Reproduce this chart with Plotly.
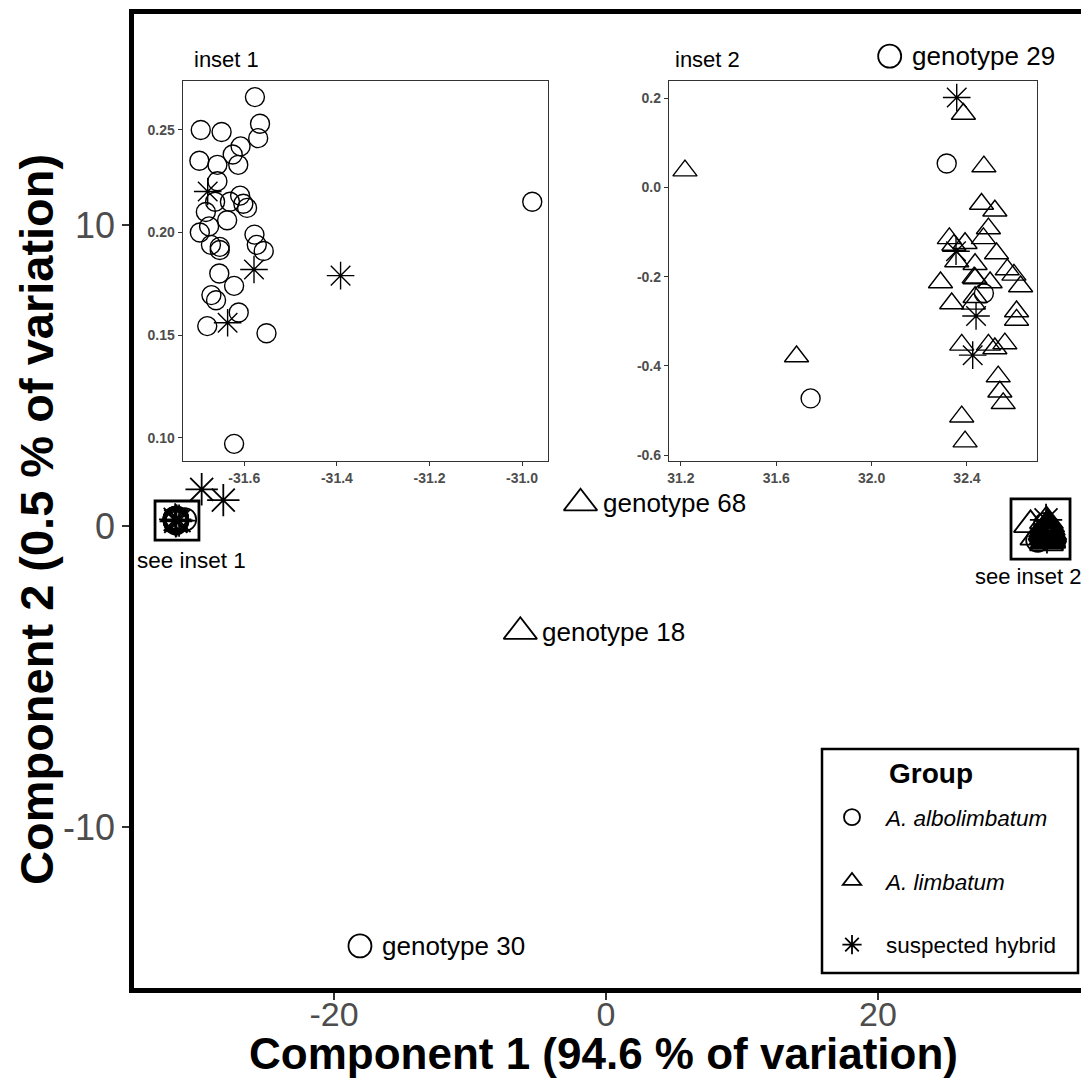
import plotly.graph_objects as go

# ---------------- data (PC1, PC2) ----------------
# A. albolimbatum - cluster near PC1 ~ -31.6 (inset 1)
alb1_x = [-31.577, -31.694, -31.649, -31.566, -31.570, -31.697, -31.625, -31.608, -31.658, -31.613,
          -31.658, -31.663, -31.631, -31.609, -31.602, -31.594, -31.683, -31.637, -31.676, -31.696,
          -31.578, -31.672, -31.653, -31.653, -31.573, -31.558, -31.654, -31.622, -31.671, -31.661,
          -31.612, -31.680, -31.552, -31.622, -30.978]
alb1_y = [0.266, 0.250, 0.249, 0.253, 0.246, 0.235, 0.238, 0.242, 0.233, 0.233,
          0.225, 0.215, 0.215, 0.218, 0.214, 0.212, 0.210, 0.206, 0.203, 0.200,
          0.199, 0.194, 0.193, 0.1915, 0.194, 0.191, 0.180, 0.174, 0.1695, 0.167,
          0.161, 0.1544, 0.1509, 0.097, 0.215]
# A. albolimbatum - inside cluster near PC1 ~ 32 (inset 2)
alb2_x = [32.315, 32.471, 31.744]
alb2_y = [0.054, -0.237, -0.473]

# A. limbatum - cluster near PC1 ~ 32.4 (inset 2)
lim2_x = [31.217, 31.685, 32.385, 32.471, 32.461, 32.517, 32.490, 32.469, 32.326, 32.345,
          32.392, 32.524, 32.357, 32.434, 32.430, 32.434, 32.497, 32.289, 32.569, 32.597,
          32.625, 32.336, 32.427, 32.608, 32.608, 32.378, 32.490, 32.517, 32.559, 32.531,
          32.538, 32.552, 32.378, 32.392, 32.434]
lim2_y = [0.038, -0.379, 0.165, 0.047, -0.037, -0.052, -0.092, -0.114, -0.114, -0.129,
          -0.125, -0.148, -0.166, -0.172, -0.202, -0.204, -0.213, -0.213, -0.184, -0.196,
          -0.222, -0.260, -0.261, -0.278, -0.297, -0.353, -0.353, -0.361, -0.350, -0.424,
          -0.458, -0.484, -0.514, -0.570, -0.246]

# suspected hybrids
hyb1_x = [-31.679, -31.579, -31.636, -31.392, -29.73, -28.14]
hyb1_y = [0.220, 0.182, 0.156, 0.179, 1.22, 0.86]
hyb2_x = [32.357, 32.354, 32.438, 32.424]
hyb2_y = [0.202, -0.143, -0.288, -0.376]

# labelled outlier genotypes
out_labels = ["genotype 29", "genotype 30", "genotype 68", "genotype 18"]
out_group = ["alb", "alb", "lim", "lim"]
out_x = [20.86, -18.09, -1.875, -6.30]
out_y = [15.61, -13.95, 0.76, -3.51]

group_names = ["A. albolimbatum", "A. limbatum", "suspected hybrid"]

main_xticks = [-20, 0, 20]
main_yticks = [-10, 0, 10]
in1_xticks = [-31.6, -31.4, -31.2, -31.0]
in1_yticks = [0.10, 0.15, 0.20, 0.25]
in2_xticks = [31.2, 31.6, 32.0, 32.4]
in2_yticks = [-0.6, -0.4, -0.2, 0.0, 0.2]

# ---------------- assemble groups ----------------
alb_x = alb1_x + alb2_x + [x for x, g in zip(out_x, out_group) if g == "alb"]
alb_y = alb1_y + alb2_y + [y for y, g in zip(out_y, out_group) if g == "alb"]
lim_x = lim2_x + [x for x, g in zip(out_x, out_group) if g == "lim"]
lim_y = lim2_y + [y for y, g in zip(out_y, out_group) if g == "lim"]
hyb_x = hyb1_x + hyb2_x
hyb_y = hyb1_y + hyb2_y

FONT = "Liberation Sans, Arial, Helvetica, sans-serif"
GREY = "#4D4D4D"

fig = go.Figure()

# main panel traces
fig.add_trace(go.Scatter(x=alb_x, y=alb_y, mode="markers", name="<i>" + group_names[0] + "</i>",
                         legendgroup="a",
                         marker=dict(symbol="circle-open", size=23, color="black",
                                     line=dict(color="black", width=1.8))))
fig.add_trace(go.Scatter(x=lim_x, y=lim_y, mode="markers", name="<i>" + group_names[1] + "</i>",
                         legendgroup="b",
                         marker=dict(symbol="triangle-up-open", size=29, color="black",
                                     line=dict(color="black", width=1.8))))
fig.add_trace(go.Scatter(x=hyb_x, y=hyb_y, mode="markers", name=group_names[2],
                         legendgroup="c",
                         marker=dict(symbol="asterisk-open", size=27, color="black",
                                     line=dict(color="black", width=1.8))))

# inset traces
for xa, ya in (("x2", "y2"), ("x3", "y3")):
    fig.add_trace(go.Scatter(x=alb_x, y=alb_y, mode="markers", xaxis=xa, yaxis=ya, showlegend=False,
                             marker=dict(symbol="circle-open", size=19, color="black",
                                         line=dict(color="black", width=1.4))))
    fig.add_trace(go.Scatter(x=lim_x, y=lim_y, mode="markers", xaxis=xa, yaxis=ya, showlegend=False,
                             marker=dict(symbol="triangle-up-open", size=21, color="black",
                                         line=dict(color="black", width=1.4))))
    fig.add_trace(go.Scatter(x=hyb_x, y=hyb_y, mode="markers", xaxis=xa, yaxis=ya, showlegend=False,
                             marker=dict(symbol="asterisk-open", size=23, color="black",
                                         line=dict(color="black", width=1.4))))

# The page body has an 8px margin; figure is sized so it ends at the window edge.
# Pixel helpers below take positions in window pixels.
OFF = 8
W, H = 1089 - OFF, 1088 - 2 * OFF
PL, PR, PT, PB = 134, 1089, 14, 988   # plot area in window pixels
L, R, T, B = PL - OFF, 0, PT - OFF, H - (PB - OFF)

def px_x(p):
    return (p - PL) / (PR - PL)

def px_y(p):
    return (PB - p) / (PB - PT)

tickfont_in = dict(family=FONT, size=14, color=GREY, weight="bold")
inset_axis = dict(showgrid=False, zeroline=False, showline=True, mirror=True, linecolor="#333333",
                  linewidth=1.3, ticks="outside", ticklen=4, tickwidth=1, tickcolor="#333333",
                  tickfont=tickfont_in)

fig.update_layout(
    width=W, height=H,
    margin=dict(l=L, r=R, t=T, b=B),
    paper_bgcolor="white", plot_bgcolor="white",
    font=dict(family=FONT, color="black"),
    xaxis=dict(range=[-34.706, 35.515], showgrid=False, zeroline=False, showline=True, mirror=True,
               linecolor="black", linewidth=4.5, ticks="outside", ticklen=7, tickwidth=1.5,
               tickcolor="#333333", tickvals=main_xticks, ticktext=[str(v) for v in main_xticks],
               ticklabelstandoff=-15,
               tickfont=dict(family=FONT, size=34, color=GREY)),
    yaxis=dict(range=[-15.349, 17.01], showgrid=False, zeroline=False, showline=True, mirror=False,
               linecolor="black", linewidth=4.5, ticks="outside", ticklen=7, tickwidth=1.5,
               tickcolor="#333333", tickvals=main_yticks, ticktext=[str(v) for v in main_yticks],
               tickfont=dict(family=FONT, size=36, color=GREY)),
    xaxis2=dict(inset_axis, domain=[px_x(182.7), px_x(548)], anchor="y2", range=[-31.733, -30.944],
                tickvals=in1_xticks, ticktext=["%.1f" % v for v in in1_xticks]),
    yaxis2=dict(inset_axis, domain=[px_y(460.7), px_y(80.7)], anchor="x2", range=[0.0888, 0.274],
                tickvals=in1_yticks, ticktext=["%.2f" % v for v in in1_yticks]),
    xaxis3=dict(inset_axis, domain=[px_x(669), px_x(1037.3)], anchor="y3", range=[31.15, 32.695],
                tickvals=in2_xticks, ticktext=["%.1f" % v for v in in2_xticks]),
    yaxis3=dict(inset_axis, domain=[px_y(460.7), px_y(80.7)], anchor="x3", range=[-0.6127, 0.2396],
                tickvals=in2_yticks, ticktext=["%.1f" % v for v in in2_yticks]),
    legend=dict(x=px_x(818), y=px_y(796), xanchor="left", yanchor="top",
                borderwidth=0, bgcolor="rgba(0,0,0,0)",
                font=dict(family=FONT, size=22.5, color="black"),
                traceorder="grouped", tracegroupgap=31.5, itemwidth=58),
)

# legend frame and title
fig.add_shape(type="rect", xref="paper", yref="paper", x0=px_x(822), x1=px_x(1078),
              y0=px_y(973), y1=px_y(749), line=dict(color="black", width=2.5))
fig.add_annotation(x=px_x(887), y=px_y(773), xref="paper", yref="paper", text="<b>Group</b>",
                   showarrow=False, xanchor="left", yanchor="middle", font=dict(size=28, color="black"))

# boxes around clusters
fig.add_shape(type="rect", xref="x", yref="y", x0=-33.16, x1=-29.93, y0=-0.47, y1=0.83,
              line=dict(color="black", width=2.8))
fig.add_shape(type="rect", xref="x", yref="y", x0=29.78, x1=34.12, y0=-1.10, y1=0.90,
              line=dict(color="black", width=2.8))

# annotations
for lab, x, y in zip(out_labels, out_x, out_y):
    fig.add_annotation(x=x, y=y, xref="x", yref="y", text=lab, showarrow=False, xanchor="left",
                       xshift=20, font=dict(size=26, color="black"))
fig.add_annotation(x=-30.51, y=-1.13, xref="x", yref="y", text="see inset 1", showarrow=False,
                   font=dict(size=22.5, color="black"))
fig.add_annotation(x=31.0, y=-1.69, xref="x", yref="y", text="see inset 2", showarrow=False,
                   font=dict(size=22, color="black"))
fig.add_annotation(x=px_x(192), y=px_y(60), xref="paper", yref="paper", text="inset 1", showarrow=False,
                   xanchor="left", yanchor="middle", font=dict(size=22, color="black"))
fig.add_annotation(x=px_x(673), y=px_y(60), xref="paper", yref="paper", text="inset 2", showarrow=False,
                   xanchor="left", yanchor="middle", font=dict(size=22, color="black"))
fig.add_annotation(x=px_x(603), y=px_y(1053), xref="paper", yref="paper",
                   text="<b>Component 1 (94.6 % of variation)</b>", showarrow=False,
                   xanchor="center", yanchor="middle", font=dict(size=44, color="black"))
fig.add_annotation(x=px_x(36), y=px_y(520), xref="paper", yref="paper",
                   text="<b>Component 2 (0.5 % of variation)</b>", showarrow=False, textangle=-90,
                   xanchor="center", yanchor="middle", font=dict(size=47, color="black"))

fig.write_html("out.html")
